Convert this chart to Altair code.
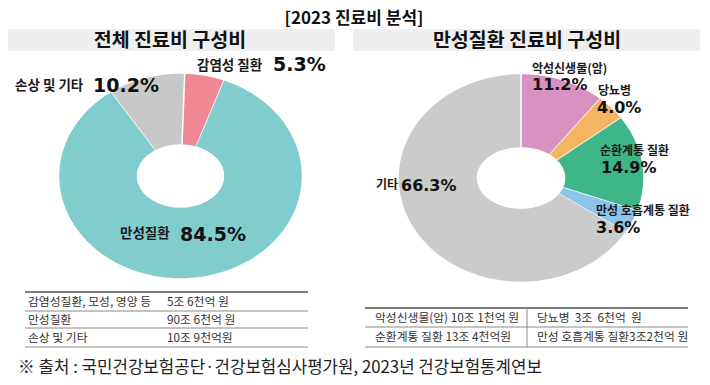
import altair as alt
import pandas as pd

# ---------------- data ----------------
main_title = "[2023 진료비 분석]"
panel_titles = ["전체 진료비 구성비", "만성질환 진료비 구성비"]

total_categories = ["감염성 질환", "만성질환", "손상 및 기타"]
total_shares = [5.3, 84.5, 10.2]

chronic_categories = ["악성신생물(암)", "당뇨병", "순환계통 질환", "만성 호흡계통 질환", "기타"]
chronic_shares = [11.2, 4.0, 14.9, 3.6, 66.3]

total_table_names = ["감염성질환, 모성, 영양 등", "만성질환", "손상 및 기타"]
total_table_amounts = ["5조 6천억 원", "90조 6천억 원", "10조 9천억원"]

chronic_table_left = ["악성신생물(암) 10조 1천억 원", "순환계통 질환 13조 4천억원"]
chronic_table_right = ["당뇨병\u00a0 3조\u00a0 6천억\u00a0 원", "만성 호흡계통 질환3조2천억 원"]

source_note = "※ 출처 : 국민건강보험공단·건강보험심사평가원, 2023년 건강보험통계연보"

# ---------------- styles / layout ----------------
total_colors = ["#EF8794", "#81CCCD", "#C8C8C8"]
chronic_colors = ["#D892C0", "#F5B462", "#3FB58A", "#8CC4EB", "#CBCBCB"]

KR = "Noto Sans CJK KR"
NUM = "DejaVu Sans"
OFF = 8  # page margin
STEPS = 90


def donut(categories, shares, colors, start_deg, x_range, y_range, inner_x, inner_y):
    df = pd.DataFrame({"cat": categories, "share": shares, "col": colors,
                       "idx": list(range(len(categories)))})
    df["k"] = [list(range(2 * STEPS + 2)) for _ in categories]
    n = STEPS
    return (
        alt.Chart(df)
        .transform_window(cum="sum(share)", sort=[alt.SortField("idx")], frame=[None, 0])
        .transform_calculate(
            a0=f"({start_deg} + (datum.cum - datum.share) * 3.6) * PI / 180",
            a1=f"({start_deg} + datum.cum * 3.6) * PI / 180",
        )
        .transform_flatten(["k"])
        .transform_calculate(outer=f"datum.k <= {n}")
        .transform_calculate(
            t=f"datum.outer ? datum.k / {n} : ({2 * n + 1} - datum.k) / {n}",
            rx=f"datum.outer ? 1 : {inner_x}",
            ry=f"datum.outer ? 1 : {inner_y}",
        )
        .transform_calculate(ang="datum.a0 + (datum.a1 - datum.a0) * datum.t")
        .transform_calculate(px="datum.rx * sin(datum.ang)", py="datum.ry * cos(datum.ang)")
        .mark_line(filled=True, stroke="white", strokeWidth=1.5, opacity=1, fillOpacity=1)
        .encode(
            x=alt.X("px:Q", scale=alt.Scale(domain=[-1, 1], range=x_range, nice=False, zero=False), axis=None),
            y=alt.Y("py:Q", scale=alt.Scale(domain=[-1, 1], range=y_range, nice=False, zero=False), axis=None),
            color=alt.Color("col:N", scale=None, legend=None),
            detail="cat:N",
            order="k:Q",
        )
    )


def text_layer(texts, positions, size, weight, font, color="#1a1a1a", align="left", baseline="alphabetic"):
    df = pd.DataFrame({"text": texts,
                       "x": [p[0] - OFF for p in positions],
                       "y": [p[1] - OFF for p in positions]})
    return alt.Chart(df).mark_text(
        fontSize=size, fontWeight=weight, font=font, color=color, align=align, baseline=baseline
    ).encode(x=alt.X("x:Q", scale=None), y=alt.Y("y:Q", scale=None), text="text:N")


def rules(segments, color, width):
    df = pd.DataFrame({"x": [s[0] - OFF for s in segments], "x2": [s[1] - OFF for s in segments],
                       "y": [s[2] - OFF for s in segments], "y2": [s[3] - OFF for s in segments]})
    return alt.Chart(df).mark_rule(color=color, strokeWidth=width).encode(
        x=alt.X("x:Q", scale=None), x2="x2:Q", y=alt.Y("y:Q", scale=None), y2="y2:Q")


# bands behind panel titles
band_df = pd.DataFrame({"x": [7 - OFF, 353 - OFF], "x2": [335 - OFF, 700 - OFF],
                        "y": [29 - OFF, 29 - OFF], "y2": [51 - OFF, 51 - OFF]})
bands = alt.Chart(band_df).mark_rect(color="#EFEFEF").encode(
    x=alt.X("x:Q", scale=None), x2="x2:Q", y=alt.Y("y:Q", scale=None), y2="y2:Q")

title_layer = text_layer([main_title], [(354, 24)], 17, "bold", KR, color="#111", align="center")
panel_layer = text_layer(panel_titles, [(170, 47), (527, 47)], 19.5, "bold", KR, color="#111",
                         align="center")

left_pie = donut(total_categories, total_shares, total_colors, 2,
                 [58.5 - OFF, 302.5 - OFF], [279 - OFF, 73 - OFF], 0.352, 0.30)
right_pie = donut(chronic_categories, chronic_shares, chronic_colors, 0,
                  [398 - OFF, 644 - OFF], [282.5 - OFF, 73.5 - OFF], 0.354, 0.287)

left_label_pos = [(197, 70), (120, 238), (15, 90)]
left_value_pos = [(273, 71), (180, 241), (93, 92)]
right_label_pos = [(532, 73), (598, 95), (600, 155), (596, 215), (376, 189)]
right_value_pos = [(532, 90), (597, 113), (601, 173), (596, 233), (401, 191)]

left_labels = text_layer(total_categories, left_label_pos, 13.5, "bold", KR)
left_values = text_layer([f"{v:.1f}%" for v in total_shares], left_value_pos, 19, "bold", NUM, color="#111")
right_labels = text_layer(chronic_categories, right_label_pos, 12, "bold", KR)
right_values = text_layer([f"{v:.1f}%" for v in chronic_shares], right_value_pos, 16, "bold", NUM, color="#111")

# tables
left_rows_y = [301.5, 319.5, 337.5]
left_table_a = text_layer(total_table_names, [(28, y) for y in left_rows_y], 11.8, "normal", KR,
                          color="#333", baseline="middle")
left_table_b = text_layer(total_table_amounts, [(167, y) for y in left_rows_y], 11.8, "normal", KR,
                          color="#333", baseline="middle")
right_rows_y = [317.5, 337]
right_table_a = text_layer(chronic_table_left, [(375, y) for y in right_rows_y], 11.8, "normal", KR,
                           color="#333", baseline="middle")
right_table_b = text_layer(chronic_table_right, [(537, y) for y in right_rows_y], 11.8, "normal", KR,
                           color="#333", baseline="middle")

dark_rules = rules([(25, 308, 292, 292), (365, 688, 308, 308)], "#555", 1.5)
light_rules = rules([(25, 308, 311, 311), (25, 308, 328, 328), (25, 308, 347, 347),
                     (365, 688, 327, 327), (365, 688, 347, 347), (527, 527, 308, 347)], "#888", 1)

note = text_layer([source_note], [(18, 368)], 16.8, "normal", KR, color="#222", baseline="middle")

chart = (
    alt.layer(bands, title_layer, panel_layer, left_pie, right_pie,
              left_labels, left_values, right_labels, right_values,
              dark_rules, light_rules, left_table_a, left_table_b, right_table_a, right_table_b, note)
    .resolve_scale(x="independent", y="independent")
    .properties(width=694, height=369, padding=0, autosize=alt.AutoSizeParams(type="none"),
                background="white")
    .configure_view(stroke=None)
)

chart.save("out.html", embed_options={"renderer": "svg", "actions": False})
